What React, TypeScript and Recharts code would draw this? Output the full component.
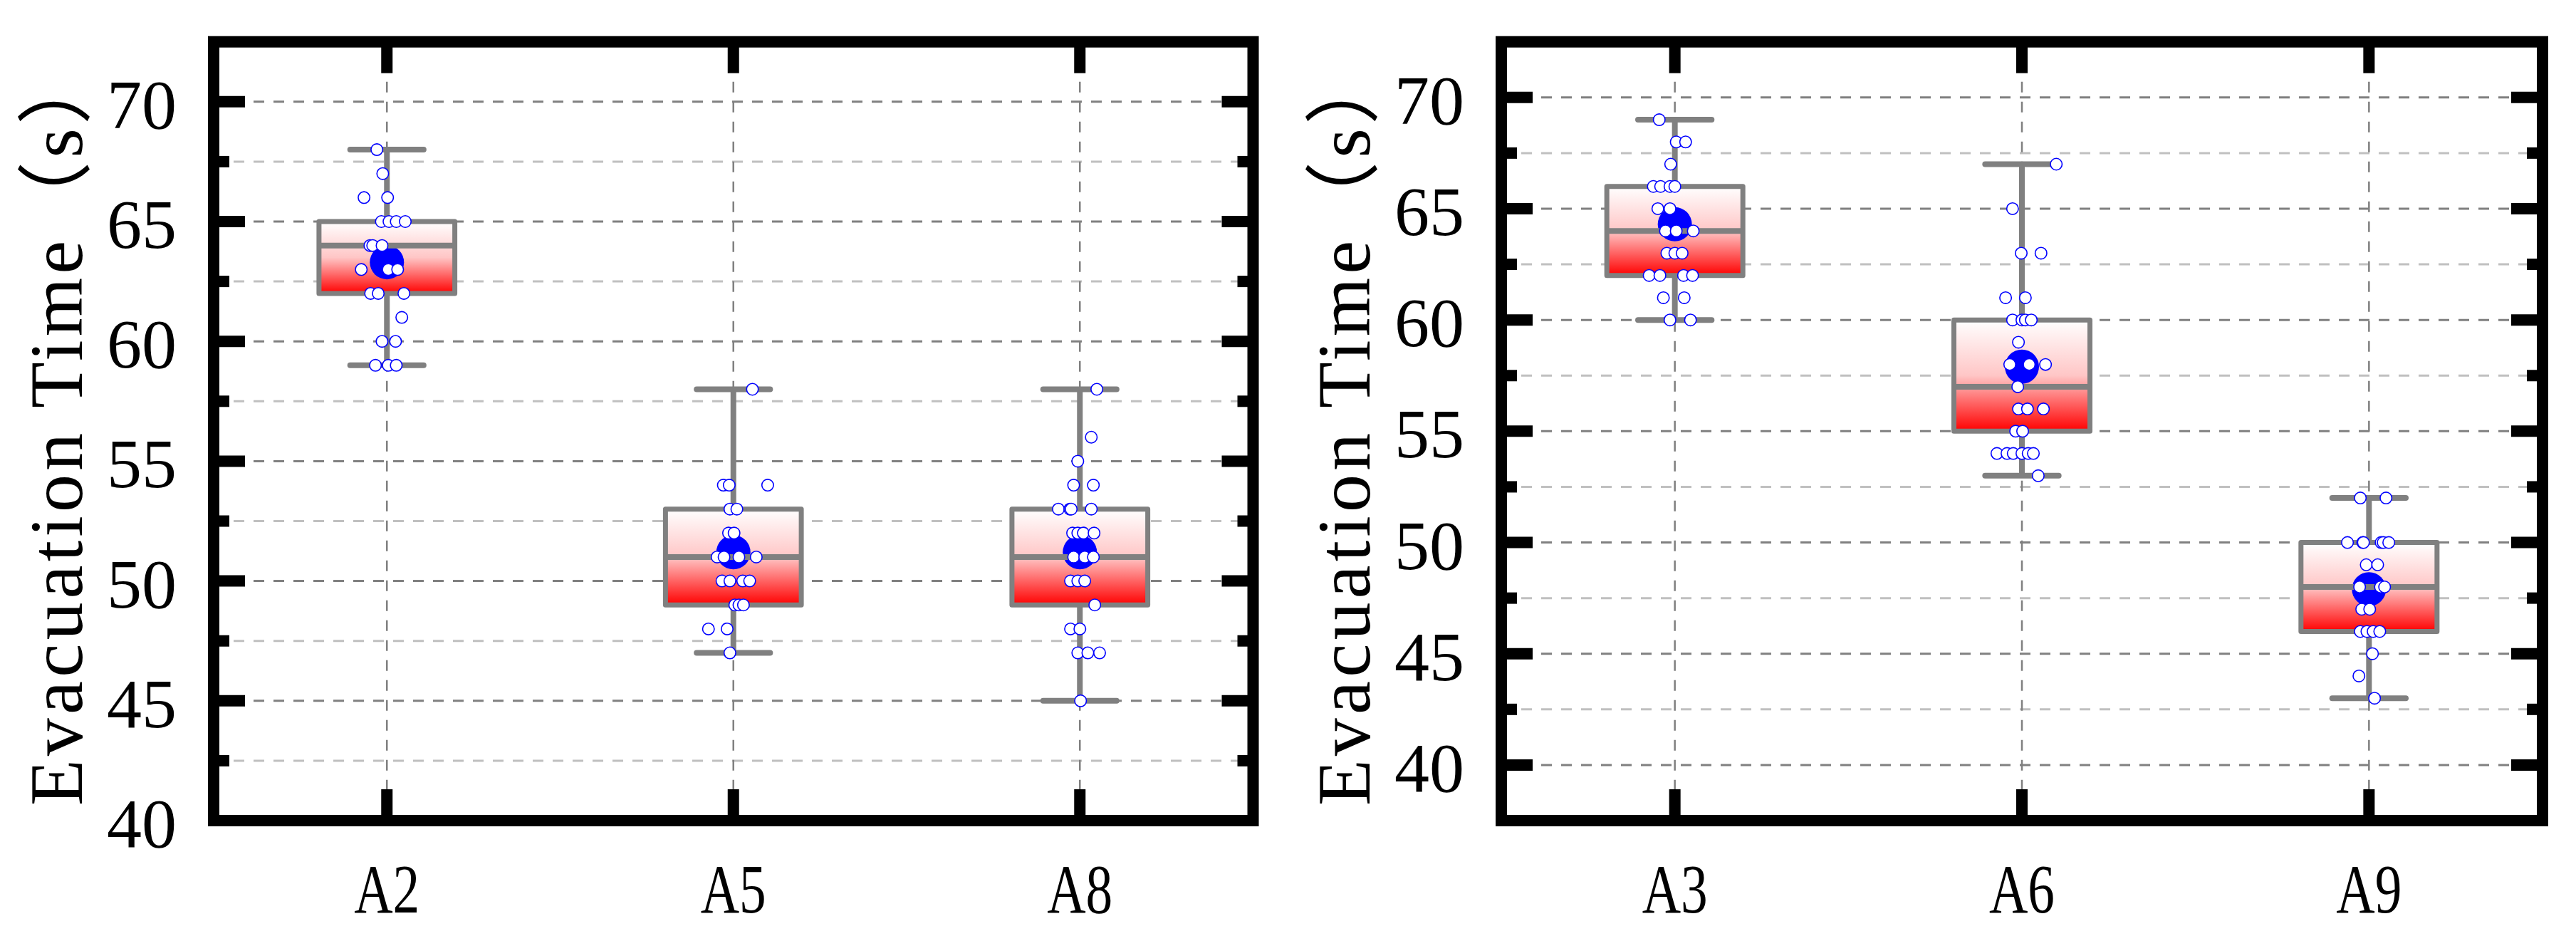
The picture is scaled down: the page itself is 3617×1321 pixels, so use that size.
import React from 'react';
import {
  ComposedChart,
  XAxis,
  YAxis,
  ReferenceLine,
  ReferenceArea,
  ReferenceDot,
  Scatter,
} from 'recharts';

// ---------------- data ----------------
const leftCategories = ['A2', 'A5', 'A8'];
const rightCategories = ['A3', 'A6', 'A9'];

const leftWhiskerLow = [59, 47, 45];
const leftQ1 = [62, 49, 49];
const leftMedian = [64, 51, 51];
const leftQ3 = [65, 53, 53];
const leftWhiskerHigh = [68, 58, 58];
const leftMean = [63.3, 51.2, 51.2];

const rightWhiskerLow = [60, 53, 43];
const rightQ1 = [62, 55, 46];
const rightMedian = [64, 57, 48];
const rightQ3 = [66, 60, 50];
const rightWhiskerHigh = [69, 67, 52];
const rightMean = [64.3, 57.9, 47.9];

// raw observations (value) and horizontal jitter (fraction of category spacing)
const a2Values = [68, 67, 66, 66, 65, 65, 65, 65, 64, 64, 64, 63, 63, 63, 62, 62, 62, 61, 60, 60, 59, 59, 59];
const a2Jitter = [-0.029, -0.012, -0.066, 0.002, -0.016, 0.006, 0.027, 0.053, -0.049, -0.041, -0.014, -0.074, 0.004, 0.031, -0.047, -0.025, 0.049, 0.043, -0.014, 0.025, -0.033, 0.004, 0.027];

const a5Values = [58, 54, 54, 54, 53, 53, 52, 52, 51, 51, 51, 51, 50, 50, 50, 50, 49, 49, 49, 48, 48, 47];
const a5Jitter = [0.055, -0.029, -0.012, 0.099, -0.01, 0.01, -0.014, 0.002, -0.047, -0.027, 0.016, 0.066, -0.033, -0.01, 0.027, 0.047, 0.004, 0.016, 0.029, -0.072, -0.018, -0.01];

const a8Values = [58, 56, 55, 54, 54, 53, 53, 53, 53, 52, 52, 52, 52, 51, 51, 51, 50, 50, 50, 49, 48, 48, 47, 47, 47, 45];
const a8Jitter = [0.049, 0.033, -0.006, -0.018, 0.039, -0.062, -0.029, -0.025, 0.033, -0.021, -0.006, 0.01, 0.041, -0.018, 0.014, 0.039, -0.027, -0.006, 0.014, 0.043, -0.027, 0, -0.006, 0.023, 0.057, 0.002];

const a3Values = [69, 68, 68, 67, 66, 66, 66, 66, 65, 65, 64, 64, 64, 63, 63, 63, 62, 62, 62, 62, 61, 61, 60, 60];
const a3Jitter = [-0.045, 0.004, 0.031, -0.012, -0.062, -0.041, -0.014, 0, -0.049, -0.014, -0.027, 0.004, 0.053, -0.023, 0, 0.021, -0.074, -0.043, 0.025, 0.051, -0.033, 0.027, -0.014, 0.045];

const a6Values = [67, 65, 63, 63, 61, 61, 60, 60, 60, 60, 59, 58, 58, 58, 57, 56, 56, 56, 55, 55, 54, 54, 54, 54, 54, 54, 53];
const a6Jitter = [0.099, -0.027, -0.002, 0.055, -0.047, 0.01, -0.027, 0, 0.01, 0.027, -0.01, -0.035, 0.021, 0.068, -0.012, -0.01, 0.016, 0.062, -0.018, 0.002, -0.072, -0.043, -0.025, 0, 0.018, 0.033, 0.047];

const a9Values = [52, 52, 50, 50, 50, 50, 50, 50, 49, 49, 48, 48, 48, 47, 47, 46, 46, 46, 46, 45, 44, 43];
const a9Jitter = [-0.025, 0.049, -0.062, -0.018, -0.016, 0.035, 0.041, 0.057, -0.008, 0.025, -0.027, 0.033, 0.045, -0.021, 0.002, -0.025, -0.006, 0.012, 0.031, 0.01, -0.029, 0.016];

const leftYDomain = [40, 72.5];
const leftYTicks = [40, 45, 50, 55, 60, 65, 70];
const leftYMinor = [42.5, 47.5, 52.5, 57.5, 62.5, 67.5];

const rightYDomain = [37.5, 72.5];
const rightYTicks = [40, 45, 50, 55, 60, 65, 70];
const rightYMinor = [42.5, 47.5, 52.5, 57.5, 62.5, 67.5];

const xDomain = [-0.5, 2.5];
const xTicks = [0, 1, 2];

// ---------------- styles ----------------
const FONT = "'Liberation Serif', 'Noto Sans CJK SC', serif";
const GRAY = '#808080';
const BOX_HALF = 0.196;
const CAP_HALF = 0.106;
const FRAME_W = 16;
const MAJOR_LEN = 44;
const MINOR_LEN = 22;

type Stats = {
  low: number[];
  q1: number[];
  med: number[];
  q3: number[];
  high: number[];
  mean: number[];
};

type PanelProps = {
  categories: string[];
  stats: Stats;
  values: number[][];
  jitters: number[][];
  yDomain: number[];
  yTicks: number[];
  yMinor: number[];
  gradId: string;
  left: number;
  marginRight: number;
};

const hGrid = (color: string, len: number) => (props: any) => {
  const { x1, y1, x2 } = props;
  return (
    <g>
      <line x1={x1} y1={y1} x2={x2} y2={y1} stroke={color} strokeWidth={3} strokeDasharray="15 13" />
      <line x1={x1} y1={y1} x2={x1 + len} y2={y1} stroke="#000" strokeWidth={FRAME_W} />
      <line x1={x2 - len} y1={y1} x2={x2} y2={y1} stroke="#000" strokeWidth={FRAME_W} />
    </g>
  );
};

const vGrid = (props: any) => {
  const { x1, y1, y2 } = props;
  const top = Math.min(y1, y2);
  const bottom = Math.max(y1, y2);
  return (
    <g>
      <line x1={x1} y1={top} x2={x1} y2={bottom} stroke={GRAY} strokeWidth={2.5} strokeDasharray="15 13" />
      <line x1={x1} y1={top} x2={x1} y2={top + MAJOR_LEN} stroke="#000" strokeWidth={FRAME_W} />
      <line x1={x1} y1={bottom - MAJOR_LEN} x2={x1} y2={bottom} stroke="#000" strokeWidth={FRAME_W} />
    </g>
  );
};

function Panel(p: PanelProps) {
  const chartW = 1800;
  const chartH = 1321;
  const points = p.values.flatMap((vals, i) =>
    vals.map((v, k) => ({ x: i + p.jitters[i][k], y: v }))
  );

  const YTick = (props: any) => {
    const { x, y, payload } = props;
    return (
      <text x={x - 52} y={y + 37} textAnchor="end" fontFamily={FONT} fontSize={98} fill="#000">
        {payload.value}
      </text>
    );
  };

  const XTick = (props: any) => {
    const { x, y, payload } = props;
    return (
      <text
        x={x}
        y={y + 129}
        textAnchor="middle"
        fontFamily={FONT}
        fontSize={98}
        fill="#000"
        textLength={92}
        lengthAdjust="spacingAndGlyphs"
      >
        {p.categories[payload.value]}
      </text>
    );
  };

  const YLabel = (props: any) => {
    const vb = props.viewBox || {};
    const ax = vb.x ?? 0;
    const aw = vb.width ?? 300;
    const ay = vb.y ?? 58.7;
    const ah = vb.height ?? 1093.3;
    const bx = ax + aw - 185;
    const by = ay + ah - 21;
    return (
      <text
        x={bx}
        y={by}
        transform={`rotate(-90 ${bx} ${by})`}
        fontFamily={FONT}
        fontSize={106}
        fill="#000"
        textLength={1062}
        lengthAdjust="spacing"
      >
        Evacuation Time（s）
      </text>
    );
  };

  const boxShape = (props: any) => {
    const { x, y, width, height } = props;
    return (
      <g>
        <defs>
          <linearGradient id={p.gradId} x1="0" y1="0" x2="0" y2="1">
            <stop offset="0" stopColor="#ffffff" />
            <stop offset="0.5" stopColor="#ffc6c6" />
            <stop offset="1" stopColor="#ff0000" />
          </linearGradient>
        </defs>
        <rect
          x={x}
          y={y}
          width={width}
          height={height}
          fill={`url(#${p.gradId})`}
          stroke={GRAY}
          strokeWidth={7}
          strokeLinejoin="round"
        />
      </g>
    );
  };

  const frameShape = (props: any) => {
    const { x, y, width, height } = props;
    return <rect x={x} y={y} width={width} height={height} fill="none" stroke="#000" strokeWidth={FRAME_W} />;
  };

  const meanShape = (props: any) => <circle cx={props.cx} cy={props.cy} r={24} fill="#0000ff" stroke="none" />;

  const pointShape = (props: any) => (
    <circle cx={props.cx} cy={props.cy} r={8.2} fill="#ffffff" stroke="#0000ff" strokeWidth={1.6} />
  );

  const idx = p.categories.map((_, i) => i);

  return (
    <div style={{ position: 'absolute', left: p.left, top: 0, width: chartW, height: chartH }}>
      <ComposedChart
        width={chartW}
        height={chartH}
        margin={{ top: 58.7, right: p.marginRight, bottom: 0, left: 0 }}
      >
        <XAxis
          type="number"
          dataKey="x"
          domain={xDomain}
          ticks={xTicks}
          allowDataOverflow
          axisLine={false}
          tickLine={false}
          tickSize={0}
          tickMargin={0}
          height={169}
          tick={XTick}
          interval={0}
        />
        <YAxis
          type="number"
          dataKey="y"
          domain={p.yDomain}
          ticks={p.yTicks}
          allowDataOverflow
          axisLine={false}
          tickLine={false}
          tickSize={0}
          tickMargin={0}
          width={300}
          tick={YTick}
          interval={0}
          label={{ content: YLabel }}
        />

        {p.yMinor.map((v) => (
          <ReferenceLine key={`mi${v}`} y={v} zIndex={10} shape={hGrid('#c0c0c0', MINOR_LEN)} />
        ))}
        {p.yTicks.map((v) => (
          <ReferenceLine key={`ma${v}`} y={v} zIndex={11} shape={hGrid(GRAY, MAJOR_LEN)} />
        ))}
        {xTicks.map((v) => (
          <ReferenceLine key={`vx${v}`} x={v} zIndex={12} shape={vGrid} />
        ))}

        {idx.map((i) => (
          <ReferenceLine
            key={`wh${i}`}
            segment={[{ x: i, y: p.stats.q3[i] }, { x: i, y: p.stats.high[i] }]}
            stroke={GRAY}
            strokeWidth={8}
            zIndex={20}
          />
        ))}
        {idx.map((i) => (
          <ReferenceLine
            key={`wl${i}`}
            segment={[{ x: i, y: p.stats.q1[i] }, { x: i, y: p.stats.low[i] }]}
            stroke={GRAY}
            strokeWidth={8}
            zIndex={20}
          />
        ))}
        {idx.map((i) => (
          <ReferenceLine
            key={`ch${i}`}
            segment={[{ x: i - CAP_HALF, y: p.stats.high[i] }, { x: i + CAP_HALF, y: p.stats.high[i] }]}
            stroke={GRAY}
            strokeWidth={8}
            strokeLinecap="round"
            zIndex={20}
          />
        ))}
        {idx.map((i) => (
          <ReferenceLine
            key={`cl${i}`}
            segment={[{ x: i - CAP_HALF, y: p.stats.low[i] }, { x: i + CAP_HALF, y: p.stats.low[i] }]}
            stroke={GRAY}
            strokeWidth={8}
            strokeLinecap="round"
            zIndex={20}
          />
        ))}
        {idx.map((i) => (
          <ReferenceArea
            key={`bx${i}`}
            x1={i - BOX_HALF}
            x2={i + BOX_HALF}
            y1={p.stats.q1[i]}
            y2={p.stats.q3[i]}
            shape={boxShape}
            zIndex={21}
          />
        ))}
        {idx.map((i) => (
          <ReferenceDot key={`mn${i}`} x={i} y={p.stats.mean[i]} r={24} shape={meanShape} zIndex={22} />
        ))}
        {idx.map((i) => (
          <ReferenceLine
            key={`md${i}`}
            segment={[{ x: i - BOX_HALF, y: p.stats.med[i] }, { x: i + BOX_HALF, y: p.stats.med[i] }]}
            stroke={GRAY}
            strokeWidth={8}
            zIndex={23}
          />
        ))}

        <Scatter data={points} shape={pointShape} isAnimationActive={false} zIndex={30} />

        <ReferenceArea
          x1={xDomain[0]}
          x2={xDomain[1]}
          y1={p.yDomain[0]}
          y2={p.yDomain[1]}
          shape={frameShape}
          zIndex={40}
        />
      </ComposedChart>
    </div>
  );
}

export default function App() {
  return (
    <div style={{ position: 'absolute', left: 0, top: 0, width: 3617, height: 1321, background: '#fff' }}>
      <Panel
        categories={leftCategories}
        stats={{ low: leftWhiskerLow, q1: leftQ1, med: leftMedian, q3: leftQ3, high: leftWhiskerHigh, mean: leftMean }}
        values={[a2Values, a5Values, a8Values]}
        jitters={[a2Jitter, a5Jitter, a8Jitter]}
        yDomain={leftYDomain}
        yTicks={leftYTicks}
        yMinor={leftYMinor}
        gradId="gradLeft"
        left={0}
        marginRight={40.5}
      />
      <Panel
        categories={rightCategories}
        stats={{ low: rightWhiskerLow, q1: rightQ1, med: rightMedian, q3: rightQ3, high: rightWhiskerHigh, mean: rightMean }}
        values={[a3Values, a6Values, a9Values]}
        jitters={[a3Jitter, a6Jitter, a9Jitter]}
        yDomain={rightYDomain}
        yTicks={rightYTicks}
        yMinor={rightYMinor}
        gradId="gradRight"
        left={1807.5}
        marginRight={38}
      />
    </div>
  );
}
